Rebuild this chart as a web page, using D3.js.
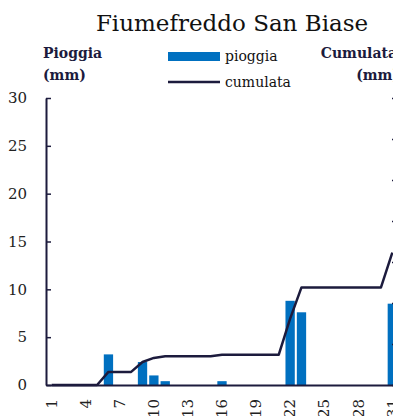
<!DOCTYPE html>
<html>
  <head>
    <meta charset="utf-8">
    <title>Fiumefreddo San Biase</title>
    <script src="https://cdn.jsdelivr.net/npm/d3@7"></script>
    <style>
      body { margin: 0; background: #fff; }
      text { font-family: "DejaVu Serif", serif; }
    </style>
  </head>
  <body>
    <script>

// size of the svg box
var w = 393;
var h = 416;

// data
var giorni = d3.range(1, 32);
var pioggia = [0, 0, 0, 0, 0, 3.2, 0, 0, 2.4, 1.0, 0.4, 0, 0, 0, 0, 0.4, 0, 0, 0, 0,
               0, 8.8, 7.6, 0, 0, 0, 0, 0, 0, 0, 8.5];
var cumulata = [0, 0, 0, 0, 0, 3.2, 3.2, 3.2, 5.6, 6.6, 7.0, 7.0, 7.0, 7.0, 7.0, 7.4, 7.4, 7.4, 7.4, 7.4,
                7.4, 16.2, 23.8, 23.8, 23.8, 23.8, 23.8, 23.8, 23.8, 23.8, 32.3];
var xTicks = [1, 4, 7, 10, 13, 16, 19, 22, 25, 28, 31];
var yTicksLeft = [0, 5, 10, 15, 20, 25, 30];
var yTicksRight = [0, 10, 20, 30, 40, 50, 60, 70];

var navy = "#1c1b3d";
var blu = "#0070c0";

var svg = d3.select("body")
  .append("svg")
  .attr("width", w)
  .attr("height", h);

// scales
var xScale = d3.scaleBand()
  .domain(giorni)
  .range([46, 398])
  .paddingInner(0.18)
  .paddingOuter(0.09);

var yScale = d3.scaleLinear()
  .domain([0, 30])
  .range([385, 98]);

var y2Scale = d3.scaleLinear()
  .domain([0, 70])
  .range([385, 98]);

// bars
svg.selectAll("rect.bar")
  .data(giorni)
  .enter()
  .append("rect")
  .attr("class", "bar")
  .attr("x", function(d) { return xScale(d); })
  .attr("y", function(d, i) { return yScale(pioggia[i]); })
  .attr("width", xScale.bandwidth())
  .attr("height", function(d, i) { return yScale(0) - yScale(pioggia[i]); })
  .attr("fill", blu);

// cumulative line
var line = d3.line()
  .x(function(d, i) { return xScale(giorni[i]) + xScale.bandwidth() / 2; })
  .y(function(d) { return y2Scale(d); });

svg.append("path")
  .datum(cumulata)
  .attr("d", line)
  .attr("fill", "none")
  .attr("stroke", navy)
  .attr("stroke-width", 2.5)
  .attr("stroke-linejoin", "round");

// axes
var yAxis = d3.axisLeft(yScale)
  .tickValues(yTicksLeft)
  .tickSizeInner(-5)
  .tickSizeOuter(0)
  .tickPadding(19);

var gy = svg.append("g")
  .attr("transform", "translate(46,0)")
  .call(yAxis);

// right axis sits past the edge of the picture, only its tick stubs show
var y2Axis = d3.axisRight(y2Scale)
  .tickValues(yTicksRight)
  .tickSizeInner(-6)
  .tickSizeOuter(0)
  .tickFormat("");

var gy2 = svg.append("g")
  .attr("transform", "translate(398,0)")
  .call(y2Axis);

var xAxis = d3.axisBottom(xScale)
  .tickValues(xTicks)
  .tickSize(0);

var gx = svg.append("g")
  .attr("transform", "translate(0,385)")
  .call(xAxis);

gx.selectAll("text")
  .attr("transform", "rotate(-90)")
  .attr("text-anchor", "end")
  .attr("x", -14)
  .attr("y", 0)
  .attr("dy", "0.35em");

[gy, gy2, gx].forEach(function(g) {
  g.select(".domain").attr("stroke", navy).attr("stroke-width", 2);
  g.selectAll(".tick line").attr("stroke", navy).attr("stroke-width", 1.5);
  g.selectAll("text")
    .attr("font-family", "DejaVu Serif, serif")
    .attr("font-size", "15px")
    .attr("fill", "#222");
});

// title
svg.append("text")
  .attr("x", 232)
  .attr("y", 31)
  .attr("text-anchor", "middle")
  .attr("font-size", "23px")
  .attr("fill", "#111")
  .text("Fiumefreddo San Biase");

// axis titles
var leftTitle = svg.append("text")
  .attr("font-size", "14px")
  .attr("font-weight", "bold")
  .attr("fill", navy);
leftTitle.append("tspan").attr("x", 43).attr("y", 58).text("Pioggia");
leftTitle.append("tspan").attr("x", 43).attr("y", 80).text("(mm)");

var rightTitle = svg.append("text")
  .attr("font-size", "14px")
  .attr("font-weight", "bold")
  .attr("fill", navy)
  .attr("text-anchor", "end");
rightTitle.append("tspan").attr("x", 397).attr("y", 58).text("Cumulata");
rightTitle.append("tspan").attr("x", 399).attr("y", 80).text("(mm)");

// legend
svg.append("rect")
  .attr("x", 168)
  .attr("y", 52)
  .attr("width", 52)
  .attr("height", 9)
  .attr("fill", blu);
svg.append("text")
  .attr("x", 225)
  .attr("y", 61)
  .attr("font-size", "14px")
  .attr("fill", "#111")
  .text("pioggia");

svg.append("line")
  .attr("x1", 168)
  .attr("x2", 220)
  .attr("y1", 82)
  .attr("y2", 82)
  .attr("stroke", navy)
  .attr("stroke-width", 2.5);
svg.append("text")
  .attr("x", 225)
  .attr("y", 87)
  .attr("font-size", "14px")
  .attr("fill", "#111")
  .text("cumulata");

    </script>
  </body>
</html>
